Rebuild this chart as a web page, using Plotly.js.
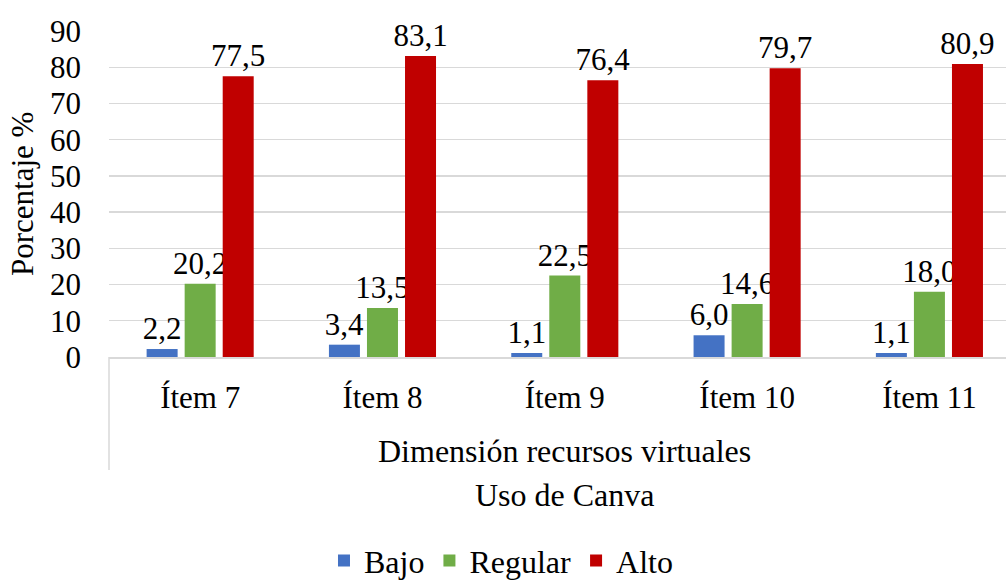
<!DOCTYPE html>
<html>
<head>
<meta charset="utf-8">
<script src="https://cdn.plot.ly/plotly-3.0.1.min.js"></script>
<style>html,body{margin:0;padding:0;background:#fff;}#chart{width:1006px;height:587px;}</style>
</head>
<body>
<div id="chart"></div>
<script>
const categories = ["Ítem 7", "Ítem 8", "Ítem 9", "Ítem 10", "Ítem 11"];
const bajo = [2.2, 3.4, 1.1, 6.0, 1.1];
const regular = [20.2, 13.5, 22.5, 14.6, 18.0];
const alto = [77.5, 83.1, 76.4, 79.7, 80.9];
const yTicks = [0, 10, 20, 30, 40, 50, 60, 70, 80, 90];

const FONT = "Liberation Serif";
const FS = 31;
const FT = 32;
const fmt = v => v.toFixed(1).replace('.', ',');

function bar(name, vals, color) {
  return {
    type: 'bar', name: name, x: categories, y: vals,
    marker: {color: color, line: {color: color, width: 0}},
    text: vals.map(fmt), textposition: 'outside', cliponaxis: false,
    constraintext: 'none',
    textfont: {family: FONT, size: FS, color: '#000'},
    hoverinfo: 'x+y'
  };
}

const data = [
  bar('Bajo', bajo, '#4472C4'),
  bar('Regular', regular, '#70AD47'),
  bar('Alto', alto, '#C00000')
];

const layout = {
  width: 1006, height: 587,
  margin: {l: 109, r: 0, t: 31, b: 230, autoexpand: false},
  paper_bgcolor: '#fff', plot_bgcolor: '#fff',
  font: {family: FONT, size: FS, color: '#000'},
  bargap: 0.374, bargroupgap: 0.185,
  showlegend: true,
  legend: {orientation: 'h', x: 0.437, xanchor: 'center', y: -0.625, yanchor: 'middle',
           font: {family: FONT, size: FT, color: '#000'}, itemwidth: 30},
  xaxis: {
    type: 'category', range: [-0.5, 4.42], showgrid: false,
    showline: true, linecolor: '#d9d9d9', linewidth: 1.5,
    ticks: '', ticklabelstandoff: 12, automargin: false,
    tickfont: {family: FONT, size: FS, color: '#000'}
  },
  yaxis: {
    range: [0, 90], tickvals: yTicks, ticktext: yTicks.map(String),
    showgrid: true, gridcolor: '#d9d9d9', gridwidth: 1.3,
    zeroline: false, showline: false, ticks: '', ticklabelstandoff: 27, automargin: false,
    tickfont: {family: FONT, size: FS, color: '#000'}
  },
  shapes: [
    {type: 'line', xref: 'paper', yref: 'paper', x0: 0, x1: 0, y0: 0, y1: -0.347,
     line: {color: '#d9d9d9', width: 1.5}}
  ],
  annotations: [
    {text: 'Porcentaje %', xref: 'paper', yref: 'paper', x: 0, y: 0.5, xshift: -87,
     xanchor: 'center', yanchor: 'middle', textangle: -90, showarrow: false,
     font: {family: FONT, size: FS, color: '#000'}},
    {text: 'Dimensión recursos virtuales', xref: 'x', yref: 'paper', x: 'Ítem 9', y: -0.288,
     xanchor: 'center', yanchor: 'middle', showarrow: false,
     font: {family: FONT, size: FT, color: '#000'}},
    {text: 'Uso de Canva', xref: 'x', yref: 'paper', x: 'Ítem 9', y: -0.423,
     xanchor: 'center', yanchor: 'middle', showarrow: false,
     font: {family: FONT, size: FT, color: '#000'}}
  ]
};

Plotly.newPlot('chart', data, layout, {displayModeBar: false, staticPlot: true});
</script>
</body>
</html>
